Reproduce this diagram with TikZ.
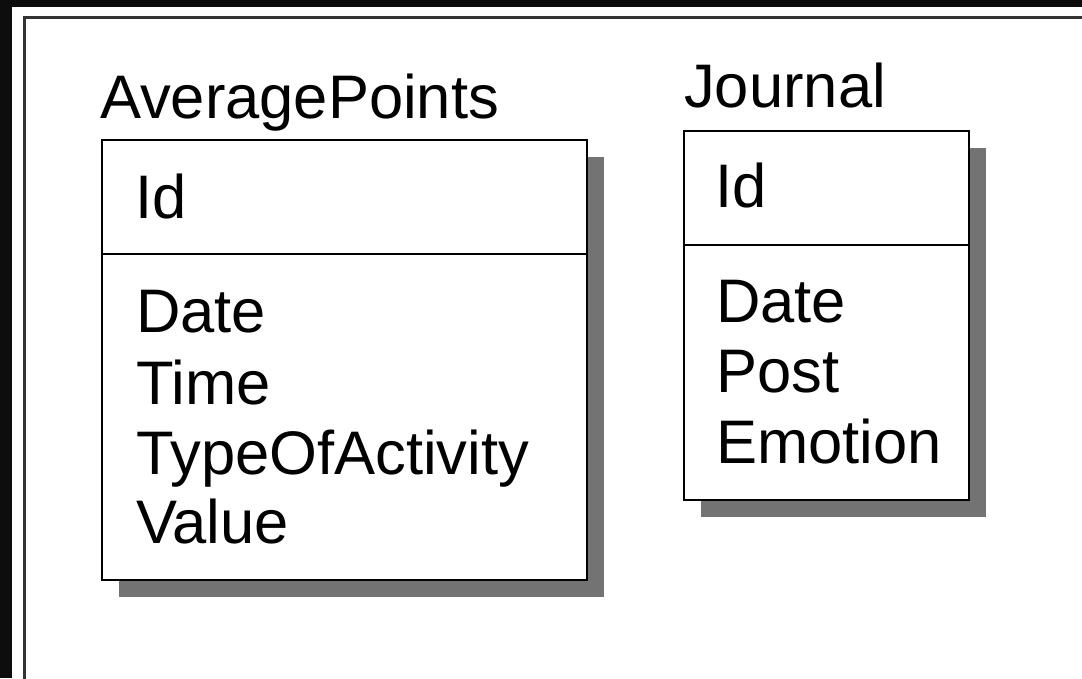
\documentclass[tikz,border=0pt]{standalone}
\usepackage{fontspec}
\setmainfont{Liberation Sans}
\tikzset{
    entity/.style={draw=black, line width=2.2pt, fill=white},
    shadowbox/.style={fill=black!55},
    field/.style={anchor=base west, inner sep=0pt, font=\fontsize{61.5}{70}\selectfont}
}
\begin{document}
\begin{tikzpicture}[x=1pt,y=-1pt]
        \useasboundingbox (0,0) rectangle (1082,678);
        \fill[black!95] (0,0) rectangle (1082,678);
        \fill[white] (12,7) rectangle (1082,678);
        \draw[line width=3pt, black!80] (24,680)--(24,17)--(1084,17);

        % AveragePoints
        \fill[shadowbox] (119,157) rectangle (604,597);
        \draw[entity] (102,140) rectangle (587,580);
        \draw[line width=2.2pt] (102,254)--(587,254);
        \node[field] (avgTitle) at (100,118) {AveragePoints};
        \node[field] (avgId) at (135,218) {Id};
        \node[field] (avgDate) at (136,332) {Date};
        \node[field] (avgTime) at (136,404) {Time};
        \node[field] (avgType) at (136,474) {TypeOfActivity};
        \node[field] (avgValue) at (136,543) {Value};

        % Journal
        \fill[shadowbox] (701,148) rectangle (986,517);
        \draw[entity] (684,131) rectangle (969,500);
        \draw[line width=2.2pt] (684,245)--(969,245);
        \node[field] (jrnTitle) at (684,107) {Journal};
        \node[field] (jrnId) at (715,207) {Id};
        \node[field] (jrnDate) at (716,322) {Date};
        \node[field] (jrnPost) at (716,392) {Post};
        \node[field] (jrnEmotion) at (716,463) {Emotion};
    \end{tikzpicture}
\end{document}
